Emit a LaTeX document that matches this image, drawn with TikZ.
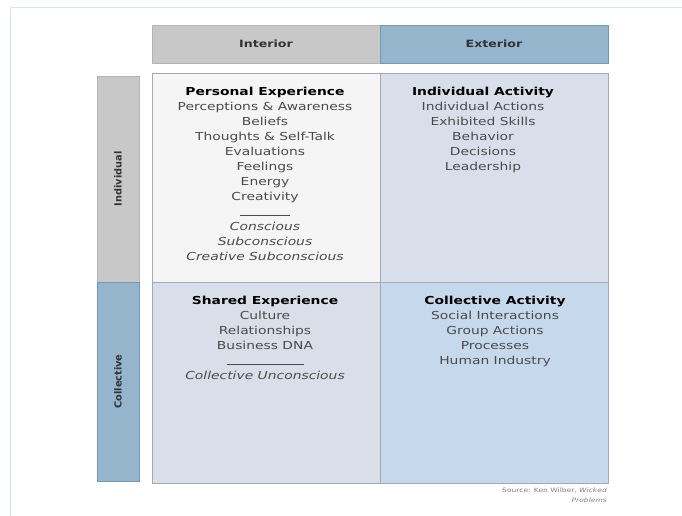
\documentclass[tikz,border=0pt]{standalone}
\usepackage{fontspec}
\setmainfont{DejaVu Sans}
\newfontfamily\widefont[FakeStretch=1.26]{DejaVu Sans}
\begin{document}
\begin{tikzpicture}[x=1pt,y=-1pt,
  quad/.style={draw=gridline, line width=0.7pt, inner sep=0pt},
  qtext/.style={anchor=north, align=center, text=itemgray, inner sep=0pt,
    font=\widefont\fontsize{11}{15}\selectfont},
  headtext/.style={font=\widefont\bfseries\fontsize{10}{11}\selectfont, text=headgray},
  sidetext/.style={font=\bfseries\fontsize{9.8}{11}\selectfont, text=headgray, rotate=90},
]
\definecolor{gridline}{HTML}{A3AAB3}
\definecolor{tlfill}{HTML}{F5F5F5}
\definecolor{trfill}{HTML}{D9DFEA}
\definecolor{blfill}{HTML}{D9DFE9}
\definecolor{brfill}{HTML}{C6D8EB}
\definecolor{grayhead}{HTML}{C8C8C8}
\definecolor{bluehead}{HTML}{95B5CD}
\definecolor{blueedge}{HTML}{6F9BBB}
\definecolor{itemgray}{HTML}{4A4A4A}
\definecolor{headgray}{HTML}{333333}
\definecolor{framecol}{HTML}{D6E4F1}
\useasboundingbox (0,0) rectangle (682,516);
% outer faint frame
\draw[framecol, line width=1pt] (10,516) -- (10,8) -- (682,8);
% headers
\node[fill=grayhead, draw=grayhead!90!black, line width=0.5pt, minimum width=228pt, minimum height=38pt, inner sep=0pt] (hint) at (266,44) {};
\node[fill=bluehead, draw=blueedge, line width=0.8pt, minimum width=228pt, minimum height=38pt, inner sep=0pt] (hext) at (494,44) {};
\node[headtext] (tint) at (hint.center) {Interior};
\node[headtext] (text) at (hext.center) {Exterior};
% side bars
\node[fill=grayhead, draw=grayhead!90!black, line width=0.5pt, minimum width=42pt, minimum height=206pt, inner sep=0pt] (sind) at (118,179) {};
\node[fill=bluehead, draw=blueedge, line width=0.8pt, minimum width=42pt, minimum height=199pt, inner sep=0pt] (scol) at (118,381.5) {};
\node[sidetext] (tind) at (sind.center) {Individual};
\node[sidetext] (tcol) at (scol.center) {Collective};
% quadrants
\node[quad, fill=tlfill, minimum width=228pt, minimum height=209pt] (tl) at (266,177.5) {};
\node[quad, fill=trfill, minimum width=228pt, minimum height=209pt] (tr) at (494,177.5) {};
\node[quad, fill=blfill, minimum width=228pt, minimum height=201pt] (bl) at (266,382.5) {};
\node[quad, fill=brfill, minimum width=228pt, minimum height=201pt] (br) at (494,382.5) {};
% texts
\node[qtext] (ttl) at (265,87) {{\bfseries\color{black}Personal Experience}\\
Perceptions \& Awareness\\ Beliefs\\ Thoughts \& Self-Talk\\ Evaluations\\ Feelings\\ Energy\\ Creativity\\
\rule{50pt}{0.6pt}\\ \itshape Conscious\\ \itshape Subconscious\\ \itshape Creative Subconscious};
\node[qtext] (ttr) at (483,87) {{\bfseries\color{black}Individual Activity}\\
Individual Actions\\ Exhibited Skills\\ Behavior\\ Decisions\\ Leadership};
\node[qtext] (tbl) at (265,296) {{\bfseries\color{black}Shared Experience}\\
Culture\\ Relationships\\ Business DNA\\ \rule{77pt}{0.6pt}\\ \itshape Collective Unconscious};
\node[qtext] (tbr) at (495,296) {{\bfseries\color{black}Collective Activity}\\
Social Interactions\\ Group Actions\\ Processes\\ Human Industry};
% source
\node[anchor=north east, align=right, inner sep=0pt, text=gray, font=\widefont\fontsize{6}{10}\selectfont] (src) at (607,488) {Source: Ken Wilber, \itshape Wicked\\ \itshape Problems};
\end{tikzpicture}
\end{document}
